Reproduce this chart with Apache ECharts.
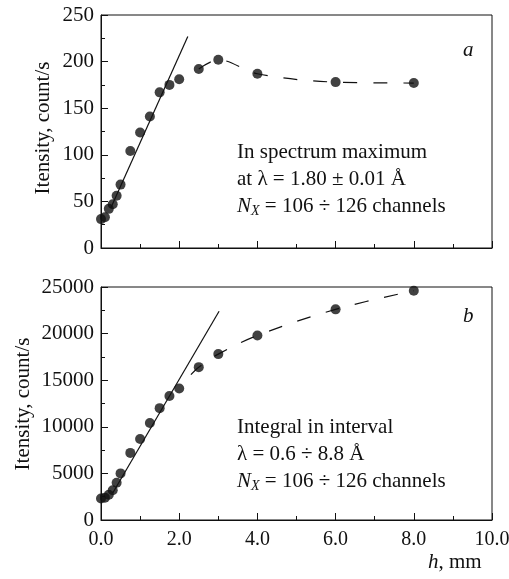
<!DOCTYPE html>
<html>
<head>
<meta charset="utf-8">
<script src="https://cdn.jsdelivr.net/npm/echarts@6/dist/echarts.min.js"></script>
<style>
  html, body { margin: 0; padding: 0; background: #fff; }
  #chart { width: 509px; height: 579px; }
</style>
</head>
<body>
<div id="chart"></div>
<script>
// Data
const hValues = [0, 0.1, 0.2, 0.3, 0.4, 0.5, 0.75, 1.0, 1.25, 1.5, 1.75, 2.0, 2.5, 3, 4, 6, 8]
const peakIntensity = [31, 33, 42, 47, 56, 68, 104, 124, 141, 167, 175, 181, 192, 202, 187, 178, 177]
const integralIntensity = [2300, 2400, 2700, 3200, 4000, 5000, 7200, 8700, 10400, 12000, 13300, 14100, 16400, 17800, 19800, 22600, 24600]

// straight fit lines (end points)
const peakFitLine = [[0.25, 43], [2.22, 227]]
const integralFitLine = [[0.3, 2900], [3.02, 22400]]
// dashed trend: starts with point index 12 (h = 2.5); lower panel dash begins a bit earlier
const dashStart = 12
const integralDashHead = [[2.3, 15600]]

const xTicks = ['0.0', '2.0', '4.0', '6.0', '8.0', '10.0']
const peakTicks = [0, 50, 100, 150, 200, 250]
const integralTicks = [0, 5000, 10000, 15000, 20000, 25000]

const FONT = '"Liberation Serif", "Times New Roman", serif'
const FS = 21
const INK = '#111'

const pairs = (xs, ys) => xs.map((x, i) => [x, ys[i]])

const chart = echarts.init(document.getElementById('chart'), null, { renderer: 'canvas' })

const makeX = (gridIndex, showLabels) => ({
  type: 'value',
  gridIndex: gridIndex,
  min: 0,
  max: 10,
  interval: 2,
  axisLine: { show: true, onZero: false, lineStyle: { color: INK, width: 1 } },
  axisTick: { show: true, inside: true, length: 7, lineStyle: { color: INK } },
  minorTick: { show: true, splitNumber: 2, length: 4, lineStyle: { color: INK } },
  splitLine: { show: false },
  axisLabel: {
    show: showLabels,
    margin: 10,
    color: INK,
    fontFamily: FONT,
    fontSize: 20,
    formatter: (v) => xTicks[Math.round(v / 2)]
  }
})

const makeY = (gridIndex, ticks) => ({
  type: 'value',
  gridIndex: gridIndex,
  min: ticks[0],
  max: ticks[ticks.length - 1],
  interval: ticks[1] - ticks[0],
  axisLine: { show: true, lineStyle: { color: INK, width: 1 } },
  axisTick: { show: true, inside: true, length: 7, lineStyle: { color: INK } },
  minorTick: { show: true, splitNumber: 2, length: 4, lineStyle: { color: INK } },
  splitLine: { show: false },
  axisLabel: {
    margin: 7,
    color: INK,
    fontFamily: FONT,
    fontSize: FS,
    formatter: (v) => String(v)
  }
})

const dots = (xi, yi, data) => ({
  type: 'scatter',
  xAxisIndex: xi,
  yAxisIndex: yi,
  data: data,
  symbol: 'circle',
  symbolSize: 10,
  itemStyle: { color: INK },
  z: 5
})

const solid = (xi, yi, data) => ({
  type: 'line',
  xAxisIndex: xi,
  yAxisIndex: yi,
  data: data,
  showSymbol: false,
  lineStyle: { color: INK, width: 1.2 },
  z: 3
})

const dashed = (xi, yi, data) => ({
  type: 'line',
  xAxisIndex: xi,
  yAxisIndex: yi,
  data: data,
  smooth: 0.35,
  showSymbol: false,
  lineStyle: { color: INK, width: 1.2, type: [14, 16] },
  z: 3
})

const rich = {
  it: { fontFamily: FONT, fontSize: FS, fontStyle: 'italic', fill: INK },
  sub: { fontFamily: FONT, fontSize: 14, fontStyle: 'italic', fill: INK, padding: [9, 0, 0, 0] }
}

const label = (left, top, text, italic) => ({
  type: 'text',
  left: left,
  top: top,
  style: {
    text: text,
    fill: INK,
    font: (italic ? 'italic ' : '') + FS + 'px ' + FONT,
    rich: rich
  }
})

// rotated y-axis title, centred on (cx, cy)
const yTitle = (cx, cy) => ({
  type: 'text',
  x: cx,
  y: cy,
  rotation: Math.PI / 2,
  style: {
    text: 'Itensity, count/s',
    fill: INK,
    font: FS + 'px ' + FONT,
    align: 'center',
    verticalAlign: 'middle'
  }
})

const peakData = pairs(hValues, peakIntensity)
const integralData = pairs(hValues, integralIntensity)

chart.setOption({
  animation: false,
  grid: [
    { left: 101, top: 15, width: 391, height: 233, show: true, borderColor: INK, borderWidth: 1, outerBoundsMode: 'none' },
    { left: 101, top: 287, width: 391, height: 233, show: true, borderColor: INK, borderWidth: 1, outerBoundsMode: 'none' }
  ],
  xAxis: [makeX(0, false), makeX(1, true)],
  yAxis: [makeY(0, peakTicks), makeY(1, integralTicks)],
  series: [
    dots(0, 0, peakData),
    solid(0, 0, peakFitLine),
    dashed(0, 0, peakData.slice(dashStart)),
    dots(1, 1, integralData),
    solid(1, 1, integralFitLine),
    dashed(1, 1, integralDashHead.concat(integralData.slice(dashStart)))
  ],
  graphic: [
    yTitle(43, 128),
    yTitle(23, 404),
    label(463, 40, 'a', true),
    label(463, 306, 'b', true),
    label(237, 142, 'In spectrum maximum'),
    label(237, 169, 'at λ = 1.80 ± 0.01 Å'),
    label(237, 196, '{it|N}{sub|X} = 106 ÷ 126 channels'),
    label(237, 417, 'Integral in interval'),
    label(237, 444, 'λ = 0.6 ÷ 8.8 Å'),
    label(237, 471, '{it|N}{sub|X} = 106 ÷ 126 channels'),
    label(428, 552, '{it|h}, mm')
  ]
})
</script>
</body>
</html>
